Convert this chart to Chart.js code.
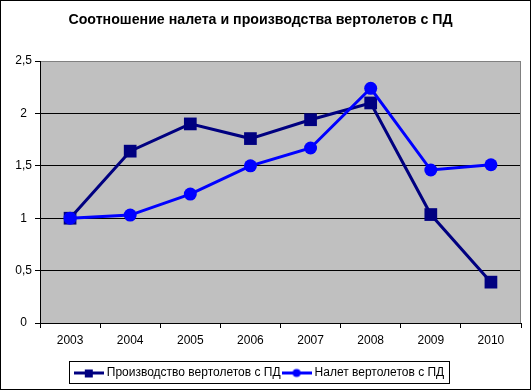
<!DOCTYPE html>
<html>
<head>
<meta charset="utf-8">
<script src="https://cdn.jsdelivr.net/npm/chart.js@4.4.1/dist/chart.umd.min.js"></script>
<style>
  html, body { margin: 0; padding: 0; background: #fff; }
  #wrap { width: 531px; height: 390px; }
</style>
</head>
<body>
<div id="wrap"><canvas id="grafica" width="531" height="390"></canvas></div>
<script>
// Datos
const years = ["2003", "2004", "2005", "2006", "2007", "2008", "2009", "2010"];
const produccion = [1.0, 1.64, 1.9, 1.76, 1.94, 2.1, 1.035, 0.39];
const nalet = [1.0, 1.03, 1.23, 1.5, 1.67, 2.24, 1.46, 1.51];
const seriesNames = ["Производство вертолетов с ПД", "Налет вертолетов с ПД"];
const yTicks = [0, 0.5, 1, 1.5, 2, 2.5];

const NAVY = "#000080";
const BLUE = "#0000FF";
const FONT = "Arial, 'Liberation Sans'";

// icono de leyenda: linea con marcador
function legendIcon(color, shape) {
  const c = document.createElement("canvas");
  c.width = 30; c.height = 11;
  const g = c.getContext("2d");
  g.strokeStyle = color; g.lineWidth = 3;
  g.beginPath(); g.moveTo(0, 5.5); g.lineTo(30, 5.5); g.stroke();
  g.fillStyle = color;
  if (shape === "rect") {
    g.fillRect(11, 2, 8, 8);
  } else {
    g.beginPath(); g.arc(15, 5.5, 4, 0, Math.PI * 2); g.fill();
  }
  return c;
}

const fondo = {
  id: "fondo",
  beforeDraw(chart) {
    const { ctx, chartArea: a } = chart;
    ctx.save();
    ctx.fillStyle = "#fff";
    ctx.fillRect(0, 0, chart.width, chart.height);
    ctx.fillStyle = "#C0C0C0";
    ctx.fillRect(a.left, a.top, a.right - a.left, a.bottom - a.top);
    ctx.restore();
  },
  beforeDatasetsDraw(chart) {
    const { ctx, chartArea: a } = chart;
    ctx.save();
    ctx.strokeStyle = "#808080";
    ctx.lineWidth = 1;
    ctx.beginPath();
    ctx.moveTo(Math.round(a.right) - 0.5, a.top);
    ctx.lineTo(Math.round(a.right) - 0.5, a.bottom);
    ctx.stroke();
    ctx.restore();
  },
  afterDraw(chart) {
    const { ctx } = chart;
    ctx.save();
    ctx.strokeStyle = "#000";
    ctx.lineWidth = 1;
    ctx.strokeRect(0.5, 0.5, chart.width - 1, chart.height - 1);
    const hb = chart.legend.legendHitBoxes;
    if (hb && hb.length) {
      const l = Math.min(...hb.map(b => b.left)) - 8;
      const r = Math.max(...hb.map(b => b.left + b.width)) + 5;
      const t = Math.min(...hb.map(b => b.top)) - 6;
      const bt = Math.max(...hb.map(b => b.top + b.height)) + 4;
      ctx.strokeRect(Math.round(l) + 0.5, Math.round(t) + 0.5, Math.round(r - l), Math.round(bt - t));
    }
    ctx.restore();
  }
};

const miCanvas = document.getElementById("grafica").getContext("2d");

const chart = new Chart(miCanvas, {
  type: "line",
  data: {
    labels: years,
    datasets: [{
      label: seriesNames[0],
      data: produccion,
      borderColor: NAVY,
      backgroundColor: NAVY,
      borderWidth: 3,
      pointStyle: "rect",
      pointRadius: 9,
      pointBorderWidth: 0,
      order: 1
    }, {
      label: seriesNames[1],
      data: nalet,
      borderColor: BLUE,
      backgroundColor: BLUE,
      borderWidth: 3,
      pointStyle: "circle",
      pointRadius: 6.5,
      pointBorderWidth: 0,
      order: 0
    }]
  },
  options: {
    responsive: false,
    animation: false,
    layout: {
      padding: { left: 0, right: 10, top: 0, bottom: 1 }
    },
    plugins: {
      title: {
        display: true,
        text: "Соотношение налета и производства вертолетов с ПД",
        color: "#000",
        font: { family: FONT, size: 14.2, weight: "bold" },
        padding: { top: 12, bottom: 32 }
      },
      legend: {
        position: "bottom",
        labels: {
          color: "#000",
          font: { family: FONT, size: 12 },
          usePointStyle: true,
          pointStyleWidth: 24,
          boxHeight: 12,
          padding: 4,
          generateLabels: chart => chart.data.datasets.map((ds, i) => ({
            text: ds.label,
            pointStyle: legendIcon(ds.borderColor, ds.pointStyle),
            fillStyle: ds.borderColor,
            strokeStyle: ds.borderColor,
            lineWidth: 0,
            datasetIndex: i,
            fontColor: "#000"
          }))
        }
      },
      tooltip: { enabled: false }
    },
    scales: {
      x: {
        offset: true,
        afterFit: scale => { scale.height = 40; },
        grid: {
          offset: true,
          drawOnChartArea: false,
          color: "#000",
          tickLength: 5
        },
        border: { color: "#000", width: 1 },
        ticks: {
          color: "#000",
          padding: 5,
          maxRotation: 0,
          font: { family: FONT, size: 12 }
        }
      },
      y: {
        min: 0,
        max: 2.5,
        afterFit: scale => { scale.width = 40; },
        afterBuildTicks: scale => { scale.ticks = yTicks.map(v => ({ value: v })); },
        grid: {
          color: c => (c.tick && c.tick.value === 2.5 ? "#808080" : "#000"),
          tickColor: "#000",
          tickLength: 5
        },
        border: { color: "#000", width: 1 },
        ticks: {
          color: "#000",
          padding: 3,
          crossAlign: "center",
          font: { family: FONT, size: 12 },
          callback: v => String(v).replace(".", ",")
        }
      }
    }
  },
  plugins: [fondo]
});
</script>
</body>
</html>
